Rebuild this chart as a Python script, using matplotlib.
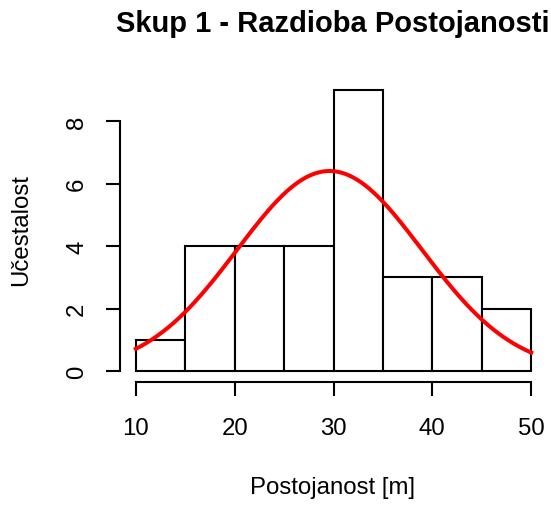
import numpy as np
import matplotlib
matplotlib.use("Agg")
import matplotlib.pyplot as plt

plt.rcParams['font.family'] = ['Liberation Sans', 'DejaVu Sans']

# histogram bins (edges) and counts
bin_edges = [10, 15, 20, 25, 30, 35, 40, 45, 50]
counts = [1, 4, 4, 4, 9, 3, 3, 2]

# fitted normal curve, parameters
fit_mean = 29.6
fit_sd = 9.35
n_obs = sum(counts)
bin_width = 5

x_ticks = [10, 20, 30, 40, 50]
y_ticks = [0, 2, 4, 6, 8]

W, H = 551, 506
fig = plt.figure(figsize=(W / 100, H / 100), dpi=100)
ax = fig.add_axes([120 / W, 1 - 383.3 / H, (547 - 120) / W, (383.3 - 79.5) / H])

lefts = bin_edges[:-1]
widths = np.diff(bin_edges)
ax.bar(lefts, counts, width=widths, align='edge', facecolor='white',
       edgecolor='black', linewidth=1.5)

xs = np.linspace(bin_edges[0], bin_edges[-1], 300)
dens = np.exp(-0.5 * ((xs - fit_mean) / fit_sd) ** 2) / (fit_sd * np.sqrt(2 * np.pi))
ax.plot(xs, dens * n_obs * bin_width, color='red', linewidth=2.9)

ax.set_xlim(8.4, 51.6)
ax.set_ylim(-0.36, 9.36)
for s in ['top', 'right']:
    ax.spines[s].set_visible(False)
ax.spines['left'].set_bounds(0, 8)
ax.spines['bottom'].set_bounds(10, 50)
for s in ['left', 'bottom']:
    ax.spines[s].set_linewidth(1.5)
ax.set_xticks(x_ticks)
ax.set_yticks(y_ticks)
ax.set_yticklabels([str(v) for v in y_ticks], rotation=90, va='center')
ax.tick_params(length=10, width=1.5, labelsize=17.3)
ax.tick_params(axis='x', pad=15)
ax.tick_params(axis='y', pad=13)

fig.text(333 / W, 1 - 24 / H, 'Skup 1 - Razdioba Postojanosti', ha='center',
         va='center', fontsize=21, fontweight='bold')
fig.text(333 / W, 1 - 488 / H, 'Postojanost [m]', ha='center', va='center',
         fontsize=17.3)
fig.text(21 / W, 1 - 230 / H, 'Učestalost', ha='center', va='center',
         rotation=90, fontsize=17.3)

fig.savefig('out.png', dpi=100)
